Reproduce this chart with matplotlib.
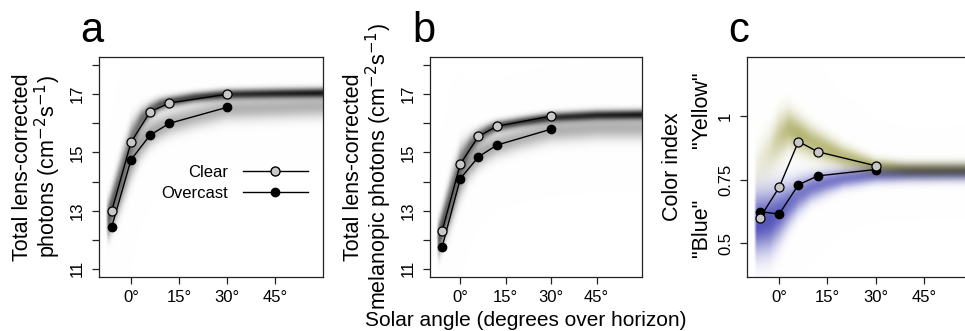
import matplotlib
matplotlib.use('Agg')
import matplotlib.pyplot as plt
import numpy as np
from matplotlib.lines import Line2D

plt.rcParams['font.family'] = ['Liberation Sans', 'DejaVu Sans']

# measured sky values at the solar angles that were sampled
solar_angle = [-6, 0, 6, 12, 30]
total_clear = [13.0, 15.35, 16.4, 16.7, 17.0]
total_overcast = [12.45, 14.75, 15.6, 16.0, 16.55]
mel_clear = [12.3, 14.6, 15.55, 15.9, 16.25]
mel_overcast = [11.75, 14.1, 14.85, 15.25, 15.8]
color_clear = [0.60, 0.72, 0.90, 0.86, 0.805]
color_overcast = [0.625, 0.615, 0.73, 0.765, 0.79]

# background clouds: ridge centre / spread / strength
cloud_x = [-7, -5, -3, 0, 3, 6, 9, 12, 20, 30, 45, 60]
total_ridge = [12.9, 13.6, 14.3, 15.4, 16.1, 16.45, 16.65, 16.75, 16.9, 17.0, 17.03, 17.05]
total_ridge_sd = [0.35, 0.4, 0.45, 0.4, 0.25, 0.18, 0.15, 0.13, 0.12, 0.12, 0.12, 0.12]
total_low = [12.45, 13.1, 13.75, 14.7, 15.3, 15.65, 15.85, 16.0, 16.25, 16.5, 16.55, 16.6]
total_low_sd = [0.3, 0.38, 0.45, 0.45, 0.35, 0.3, 0.28, 0.27, 0.27, 0.27, 0.27, 0.27]
mel_ridge = [12.2, 12.9, 13.6, 14.6, 15.2, 15.55, 15.75, 15.9, 16.05, 16.2, 16.28, 16.3]
mel_low = [11.85, 12.5, 13.15, 14.1, 14.6, 14.9, 15.1, 15.25, 15.5, 15.75, 15.85, 15.85]
ridge_amp = [0.6, 0.55, 0.5, 0.5, 0.55, 0.6, 0.65, 0.7, 0.75, 0.8, 0.85, 0.9]
low_amp = [0.35, 0.35, 0.35, 0.35, 0.35, 0.35, 0.33, 0.32, 0.3, 0.3, 0.3, 0.3]

color_x = [-7, -3, 0, 3, 6, 10, 15, 20, 30, 40, 60]
yellow_ridge = [0.80, 0.86, 0.92, 0.95, 0.93, 0.90, 0.87, 0.84, 0.80, 0.79, 0.788]
yellow_sd = [0.06, 0.06, 0.06, 0.05, 0.045, 0.04, 0.035, 0.03, 0.022, 0.02, 0.02]
yellow_amp = [0.12, 0.25, 0.45, 0.6, 0.65, 0.6, 0.6, 0.6, 0.65, 0.7, 0.7]
blue_ridge = [0.58, 0.59, 0.62, 0.655, 0.69, 0.72, 0.74, 0.755, 0.77, 0.775, 0.778]
blue_sd = [0.08, 0.08, 0.07, 0.055, 0.045, 0.035, 0.03, 0.025, 0.022, 0.022, 0.022]
blue_amp = [0.9, 0.88, 0.82, 0.75, 0.7, 0.7, 0.7, 0.7, 0.7, 0.7, 0.7]

XLIM = (-10, 60)
W, H = 965, 331


def band(xs, ys, bx, centre, sd, amp):
    c = np.interp(xs, bx, centre)
    s = np.interp(xs, bx, sd)
    a = np.interp(xs, bx, amp) * np.clip((xs + 7.9) / 0.9, 0, 1)
    return a[None, :] * np.exp(-0.5 * ((ys[:, None] - c[None, :]) / s[None, :]) ** 2)


def draw_cloud(ax, ylim, layers):
    xs = np.linspace(XLIM[0], XLIM[1], 500)
    ys = np.linspace(ylim[0], ylim[1], 400)
    img = np.ones((len(ys), len(xs), 3))
    for bx, centre, sd, amp, rgb in layers:
        d = band(xs, ys, bx, centre, sd, amp)
        img *= 1 - d[:, :, None] * (1 - np.array(rgb))[None, None, :]
    ax.imshow(img, extent=(XLIM[0], XLIM[1], ylim[0], ylim[1]), origin='lower',
              aspect='auto', interpolation='bilinear', zorder=0)


def style(ax, ylim, yticks, ylabels):
    ax.set_xlim(*XLIM)
    ax.set_ylim(*ylim)
    ax.set_xticks([0, 15, 30, 45])
    ax.set_xticklabels(['0°', '15°', '30°', '45°'])
    ax.set_yticks(yticks)
    ax.set_yticklabels(ylabels, rotation=90, va='center')
    ax.tick_params(direction='out', length=5, width=0.9, labelsize=12,
                   color='#222222')
    ax.tick_params(axis='x', pad=4)
    ax.tick_params(axis='y', pad=5)
    for sp in ax.spines.values():
        sp.set_color('#222222')
        sp.set_linewidth(0.9)


def points(ax, clear, overcast):
    ax.plot(solar_angle, overcast, '-o', color='black', lw=1.0, ms=6,
            mfc='black', mec='black', zorder=3)
    ax.plot(solar_angle, clear, '-o', color='black', lw=1.0, ms=6.5,
            mfc='#c8c8c8', mec='black', mew=0.9, zorder=4)


def axes_at(x0, x1):
    return fig.add_axes([x0 / W, 1 - 277 / H, (x1 - x0) / W, 220 / H])


fig = plt.figure(figsize=(W / 100, H / 100), dpi=100)

photon_ylim = (10.72, 18.28)
photon_ticks = list(range(11, 19))
photon_labels = [str(v) if v % 2 else '' for v in photon_ticks]
grey = (0.0, 0.0, 0.0)

# a: total photons
ax_a = axes_at(99, 323)
draw_cloud(ax_a, photon_ylim, [
    (cloud_x, total_low, total_low_sd, low_amp, grey),
    (cloud_x, total_ridge, total_ridge_sd, ridge_amp, grey),
])
points(ax_a, total_clear, total_overcast)
style(ax_a, photon_ylim, photon_ticks, photon_labels)
ax_a.set_ylabel('Total lens-corrected\nphotons (cm$^{-2}$s$^{-1}$)', fontsize=15.5,
                labelpad=5, linespacing=1.0)
handles = [
    Line2D([], [], color='black', lw=1.0, marker='o', ms=6.5, mfc='#c8c8c8', mec='black'),
    Line2D([], [], color='black', lw=1.0, marker='o', ms=6, mfc='black', mec='black'),
]
ax_a.legend(handles, ['Clear', 'Overcast'], markerfirst=False, frameon=False,
            fontsize=12, handlelength=3.9, handletextpad=0.9, labelspacing=0.35,
            borderpad=0, borderaxespad=0, loc='center right',
            bbox_to_anchor=(0.933, 0.427))

# b: melanopic photons
ax_b = axes_at(430, 642)
draw_cloud(ax_b, photon_ylim, [
    (cloud_x, mel_low, total_low_sd, low_amp, grey),
    (cloud_x, mel_ridge, total_ridge_sd, ridge_amp, grey),
])
points(ax_b, mel_clear, mel_overcast)
style(ax_b, photon_ylim, photon_ticks, photon_labels)
ax_b.set_ylabel('Total lens-corrected\nmelanopic photons (cm$^{-2}$s$^{-1}$)',
                fontsize=15.5, labelpad=5, linespacing=1.0)

# c: colour index
color_ylim = (0.368, 1.232)
ax_c = axes_at(747, 972)
draw_cloud(ax_c, color_ylim, [
    (color_x, blue_ridge, blue_sd, blue_amp, (0.25, 0.25, 0.70)),
    (color_x, yellow_ridge, yellow_sd, yellow_amp, (0.55, 0.55, 0.15)),
])
points(ax_c, color_clear, color_overcast)
style(ax_c, color_ylim, [0.5, 0.75, 1.0], ['0.5', '0.75', '1'])
fig.text(672 / W, 1 - 167 / H, 'Color index', rotation=90, fontsize=15.5,
         ha='center', va='center')
fig.text(701 / W, 1 - 228 / H, '"Blue"', rotation=90, fontsize=15.5,
         ha='center', va='center')
fig.text(701 / W, 1 - 110 / H, '"Yellow"', rotation=90, fontsize=15.5,
         ha='center', va='center')

for x, letter in [(80, 'a'), (412, 'b'), (728, 'c')]:
    fig.text(x / W, 1 - 42 / H, letter, fontsize=30, ha='left', va='baseline')

fig.text(526 / W, 1 - 320 / H, 'Solar angle (degrees over horizon)', fontsize=15,
         ha='center', va='center')

fig.savefig('out.png', dpi=100)
